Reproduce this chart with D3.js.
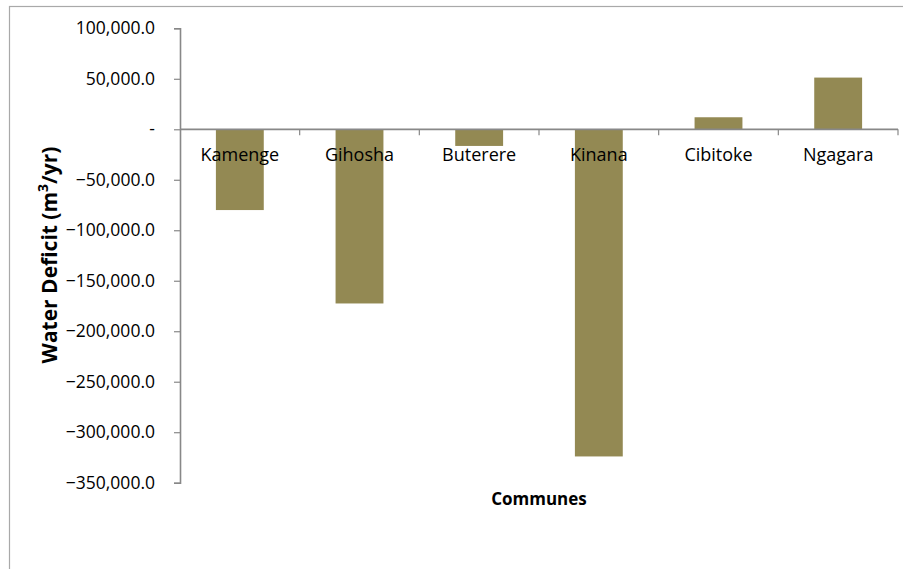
<!DOCTYPE html>
<html>
<head>
<meta charset="utf-8">
<script src="https://cdn.jsdelivr.net/npm/d3@7"></script>
<style>
  html, body { margin: 0; padding: 0; background: #fff; }
  svg { display: block; }
  text { font-family: "Open Sans", "Noto Sans", sans-serif; fill: #000; }
</style>
</head>
<body>
<svg id="chart" width="903" height="569"></svg>
<script>
// ---- data ----
const categories = ["Kamenge", "Gihosha", "Buterere", "Kinana", "Cibitoke", "Ngagara"];
const deficitValues = [-80000, -172500, -16500, -324000, 11900, 51200];
const yTickValues = [100000, 50000, 0, -50000, -100000, -150000, -200000, -250000, -300000, -350000];
const yTitle = "Water Deficit (m";
const yTitleSup = "3";
const yTitleEnd = "/yr)";
const xTitle = "Communes";

// ---- layout ----
const W = 903, H = 569;
const plot = { left: 180, right: 898, top: 28.3, bottom: 482.7 };
const axisColor = "#888888";
const barColor = "#938953";

const svg = d3.select("#chart");

// outer chart frame (extends past right & bottom edges)
svg.append("rect")
  .attr("x", 9.5).attr("y", 6.5)
  .attr("width", W + 20).attr("height", H + 20)
  .attr("fill", "none")
  .attr("stroke", "#a9a9a9")
  .attr("stroke-width", 1.2);

const y = d3.scaleLinear()
  .domain([-350000, 100000])
  .range([plot.bottom, plot.top]);

const x = d3.scaleBand()
  .domain(categories)
  .range([plot.left, plot.right])
  .paddingInner(0.6)
  .paddingOuter(0.3);

const fmt = v => v === 0 ? "-" : d3.format(",.1f")(v);

// bars
const data = categories.map((c, i) => ({ c, v: deficitValues[i] }));
svg.append("g").selectAll("rect")
  .data(data)
  .join("rect")
  .attr("x", d => x(d.c))
  .attr("width", x.bandwidth())
  .attr("y", d => y(Math.max(0, d.v)))
  .attr("height", d => Math.abs(y(d.v) - y(0)))
  .attr("fill", barColor);

// y axis
const yAxis = d3.axisLeft(y)
  .tickValues(yTickValues)
  .tickFormat(fmt)
  .tickSize(6)
  .tickPadding(19);
const gy = svg.append("g")
  .attr("transform", `translate(${plot.left},0)`)
  .call(yAxis);
gy.select(".domain").attr("stroke", axisColor).attr("stroke-width", 1.6);
gy.selectAll(".tick line").attr("stroke", axisColor).attr("stroke-width", 1.2);
gy.selectAll(".tick text")
  .style("font-family", "'Open Sans', 'Noto Sans', sans-serif")
  .style("font-size", "17.5px")
  .attr("fill", "#000");

// x axis at zero line
const step = x.step();
const boundaries = d3.range(categories.length + 1).map(i => plot.left + i * (plot.right - plot.left) / categories.length);
const gx = svg.append("g");
gx.append("line")
  .attr("x1", plot.left).attr("x2", plot.right)
  .attr("y1", y(0)).attr("y2", y(0))
  .attr("stroke", axisColor).attr("stroke-width", 1.8);
gx.selectAll("line.tk")
  .data(boundaries.slice(1))
  .join("line")
  .attr("class", "tk")
  .attr("x1", d => d).attr("x2", d => d)
  .attr("y1", y(0)).attr("y2", y(0) + 6)
  .attr("stroke", axisColor).attr("stroke-width", 1.2);

// category labels (drawn over bars)
svg.append("g").selectAll("text")
  .data(categories)
  .join("text")
  .attr("x", d => x(d) + x.bandwidth() / 2)
  .attr("y", y(0) + 32)
  .attr("text-anchor", "middle")
  .style("font-size", "18px")
  .text(d => d);

// x title
svg.append("text")
  .attr("x", (plot.left + plot.right) / 2)
  .attr("y", 505)
  .attr("text-anchor", "middle")
  .style("font-size", "17px")
  .style("font-weight", "bold")
  .text(xTitle);

// y title
const yt = svg.append("text")
  .attr("transform", "translate(57,255) rotate(-90)")
  .attr("text-anchor", "middle")
  .style("font-size", "21px")
  .style("font-weight", "bold");
yt.append("tspan").text(yTitle);
yt.append("tspan").attr("baseline-shift", "super").style("font-size", "14px").text(yTitleSup);
yt.append("tspan").text(yTitleEnd);
</script>
</body>
</html>
